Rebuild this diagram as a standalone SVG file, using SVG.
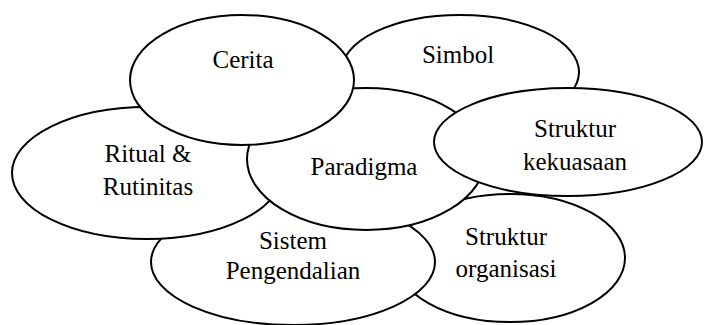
<svg xmlns="http://www.w3.org/2000/svg" width="704" height="325" viewBox="0 0 704 325">
  <style>
    .shape { fill: #ffffff; stroke: #000000; stroke-width: 2; }
    .label { font-family: "Liberation Serif", "Times New Roman", serif; font-size: 25px; fill: #000000; text-anchor: middle; }
  </style>
  <rect width="704" height="325" fill="#ffffff"/>
  <!-- ellipses drawn back to front so overlaps hide the lower outlines -->
  <g id="node-simbol">
    <ellipse class="shape" cx="460" cy="72" rx="119" ry="57"/>
    <text class="label" x="458" y="63">Simbol</text>
  </g>
  <g id="node-struktur-organisasi">
    <ellipse class="shape" cx="510" cy="258" rx="115" ry="64"/>
    <text class="label" x="506" y="245">Struktur</text>
    <text class="label" x="506" y="277">organisasi</text>
  </g>
  <g id="node-sistem-pengendalian">
    <ellipse class="shape" cx="293" cy="262" rx="142" ry="63"/>
    <text class="label" x="293" y="249">Sistem</text>
    <text class="label" x="293" y="279">Pengendalian</text>
  </g>
  <g id="node-ritual-rutinitas">
    <ellipse class="shape" cx="147" cy="173" rx="135" ry="66"/>
    <text class="label" x="148" y="162">Ritual &amp;</text>
    <text class="label" x="148" y="195">Rutinitas</text>
  </g>
  <g id="node-paradigma">
    <ellipse class="shape" cx="366" cy="159" rx="119" ry="71"/>
    <text class="label" x="364" y="175">Paradigma</text>
  </g>
  <g id="node-cerita">
    <ellipse class="shape" cx="242" cy="80" rx="112" ry="65"/>
    <text class="label" x="243" y="68">Cerita</text>
  </g>
  <g id="node-struktur-kekuasaan">
    <ellipse class="shape" cx="568" cy="142" rx="134" ry="54"/>
    <text class="label" x="575" y="137">Struktur</text>
    <text class="label" x="575" y="170">kekuasaan</text>
  </g>
  <g id="connectors"/>
</svg>
